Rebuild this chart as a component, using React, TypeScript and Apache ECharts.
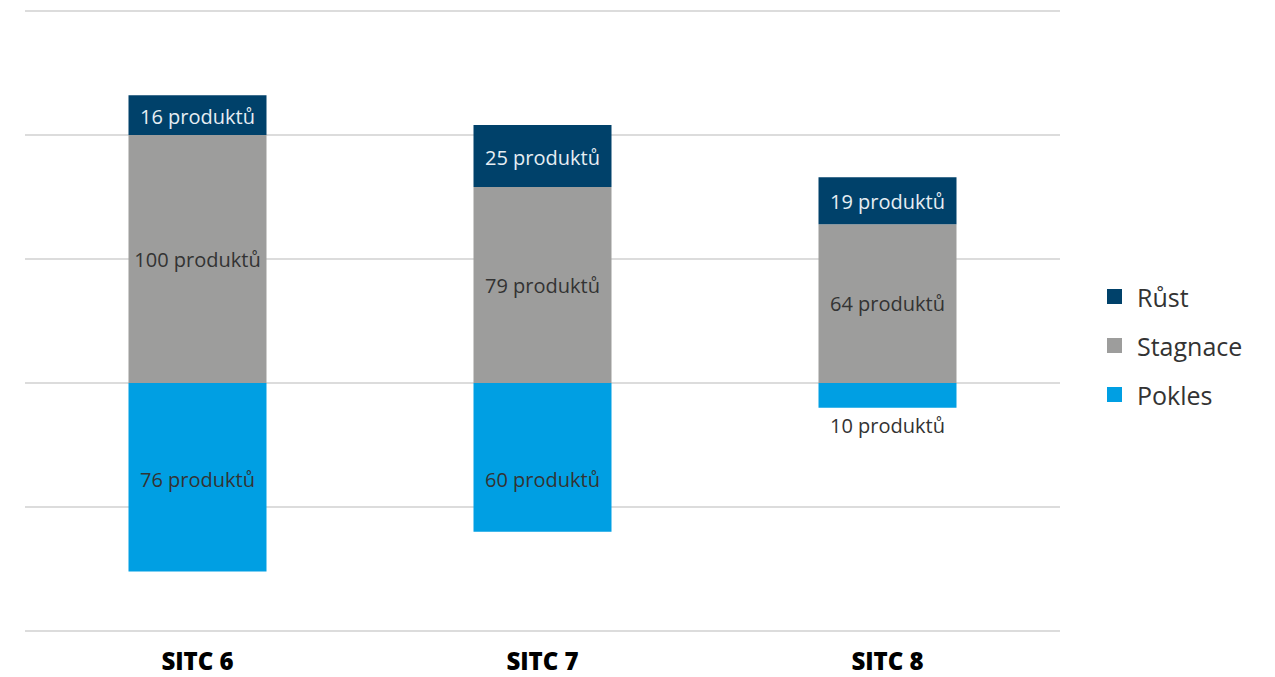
import React, { useEffect, useRef } from "react";
import * as echarts from "echarts";

const categories = ["SITC 6", "SITC 7", "SITC 8"];
const rust = [16, 25, 19];
const stagnace = [100, 79, 64];
const pokles = [-76, -60, -10];
const yTicks = { min: -100, max: 150, interval: 50 };

const FONT = "'Open Sans', 'Noto Sans', sans-serif";

export default function App() {
  const ref = useRef<HTMLDivElement>(null);
  useEffect(() => {
    if (!ref.current) return;
    const chart = echarts.init(ref.current, undefined, { renderer: "svg" });
    const fmt = (p: any) => `${Math.abs(p.value)} produktů`;
    const labelBase = { show: true, formatter: fmt, fontSize: 20, fontFamily: FONT, offset: [0, 0] };
    chart.setOption({
      animation: false,
      textStyle: { fontFamily: FONT },
      grid: { left: 25, right: 215, top: 11, bottom: 46, containLabel: false },
      legend: {
        orient: "vertical",
        left: 1107,
        top: 284,
        padding: 0,
        itemWidth: 15,
        itemHeight: 15,
        itemGap: 24,
        icon: "rect",
        data: ["Růst", "Stagnace", "Pokles"],
        textStyle: { fontFamily: FONT, fontSize: 25, color: "#333", padding: [0, 0, 0, 10] },
      },
      xAxis: {
        type: "category",
        data: categories,
        axisLine: { show: false },
        axisTick: { show: false },
        axisLabel: {
          fontFamily: FONT,
          fontSize: 24,
          lineHeight: 24,
          fontWeight: 800,
          color: "#000",
          margin: 17,
        },
      },
      yAxis: {
        type: "value",
        min: yTicks.min,
        max: yTicks.max,
        interval: yTicks.interval,
        axisLabel: { show: false },
        axisLine: { show: false },
        axisTick: { show: false },
        splitLine: { lineStyle: { color: "#dcdcdc", width: 2 } },
      },
      series: [
        {
          name: "Pokles",
          type: "bar",
          stack: "a",
          barWidth: 138,
          data: [
            { value: pokles[0], label: { offset: [0, 2] } },
            { value: pokles[1], label: { offset: [0, 22] } },
            { value: pokles[2], label: { position: "bottom", distance: 8, offset: [0, 0] } },
          ],
          itemStyle: { color: "#009fe3" },
          label: { ...labelBase, position: "inside", color: "#333" },
        },
        {
          name: "Stagnace",
          type: "bar",
          stack: "a",
          barWidth: 138,
          data: stagnace,
          itemStyle: { color: "#9d9d9c" },
          label: { ...labelBase, position: "inside", color: "#333" },
        },
        {
          name: "Růst",
          type: "bar",
          stack: "a",
          barWidth: 138,
          data: rust,
          itemStyle: { color: "#00416a" },
          label: { ...labelBase, position: "inside", color: "#e6eef3", offset: [0, 1] },
        },
      ],
    });
    return () => chart.dispose();
  }, []);
  return (
    <div
      ref={ref}
      style={{ position: "fixed", left: 0, top: 0, width: 1275, height: 677, background: "#fff" }}
    />
  );
}
